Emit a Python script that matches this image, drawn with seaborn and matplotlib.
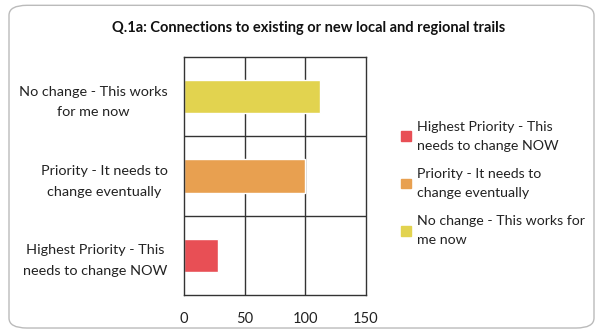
import pandas as pd
import seaborn as sns
import matplotlib.pyplot as plt
from matplotlib.patches import FancyBboxPatch

# Данные
categories = [
    "No change - This works\nfor me now",
    "Priority - It needs to\nchange eventually",
    "Highest Priority - This\nneeds to change NOW",
]
values = [112, 100, 28]
legend_order = [categories[2], categories[1], categories[0]]
legend_labels = [
    "Highest Priority - This\nneeds to change NOW",
    "Priority - It needs to\nchange eventually",
    "No change - This works for\nme now",
]
colors = {categories[2]: "#E84F55", categories[1]: "#E8A050", categories[0]: "#E2D34F"}
xticks = [0, 50, 100, 150]
title = "Q.1a: Connections to existing or new local and regional trails"

sns.set_theme(style="white")
plt.rcParams["font.family"] = ["Lato", "DejaVu Sans"]

df = pd.DataFrame({"category": categories, "value": values})

fig = plt.figure(figsize=(6, 3.32), dpi=100)
ax = fig.add_axes([0.307, 0.111, 0.303, 0.717])

sns.barplot(data=df, x="value", y="category", hue="category", order=categories,
            hue_order=legend_order, palette=colors, dodge=False, width=0.42,
            saturation=1, legend=False, ax=ax)

ax.set_xlim(0, 150)
ax.set_ylim(2.5, -0.5)
ax.set_xticks(xticks)
ax.set_xticklabels([str(t) for t in xticks], fontsize=10.5, color="#222222")
ax.tick_params(axis="y", labelsize=10.4, labelcolor="#222222", pad=12, length=0)
ax.tick_params(axis="x", pad=12, length=0)
for lab in ax.get_yticklabels():
    lab.set_multialignment("center")
    lab.set_linespacing(1.85)
ax.set_xlabel("")
ax.set_ylabel("")
for x in xticks[1:-1]:
    ax.axvline(x, color="#333333", lw=1, zorder=0)
for y in [0.5, 1.5]:
    ax.axhline(y, color="#333333", lw=1, zorder=0)
for s in ax.spines.values():
    s.set_color("#333333")
    s.set_linewidth(1)

# Легенда
handles = [plt.Rectangle((0, 0), 1, 1, color=colors[c]) for c in legend_order]
leg = fig.legend(handles, legend_labels, loc="upper left", bbox_to_anchor=(0.647, 0.675),
                 frameon=False, fontsize=10.2, handlelength=0.7, handleheight=0.7,
                 handletextpad=0.45, labelspacing=1.15, labelcolor="#222222")
for t in leg.get_texts():
    t.set_linespacing(1.7)

fig.text(0.515, 0.915, title, ha="center", va="center", fontsize=10.5,
         fontweight="bold", color="#111111")

border = FancyBboxPatch((0.015, 0.012), 0.975, 0.972, boxstyle="round,pad=0,rounding_size=0.03",
                        transform=fig.transFigure, fill=False, edgecolor="#BBBBBB", lw=1)
fig.patches.append(border)

plt.savefig("out.png", dpi=100)
